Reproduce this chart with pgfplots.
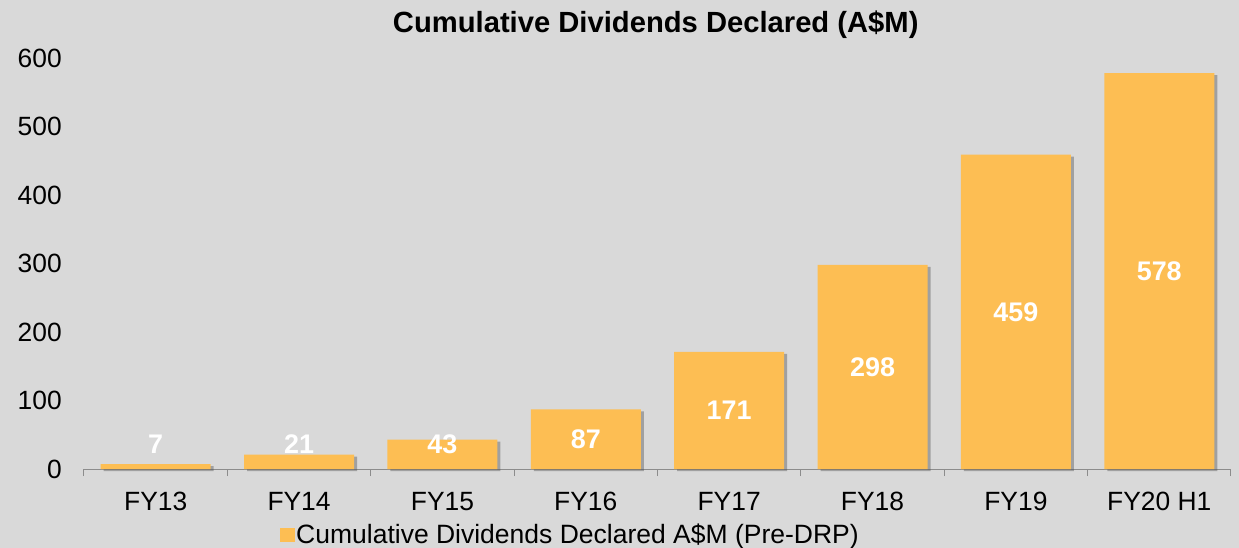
\documentclass[border=0pt]{standalone}
\usepackage{pgfplots}
\pgfplotsset{compat=1.18}
\usepackage{fontspec}
\setmainfont{Liberation Sans}
\usetikzlibrary{shadows}
\definecolor{bg}{HTML}{D9D9D9}
\definecolor{barc}{HTML}{FDBE53}
\definecolor{axgrey}{HTML}{8C8C8C}
\begin{document}
\begin{tikzpicture}
\fill[bg] (-84bp,-79bp) rectangle (1155bp,469bp);
\begin{axis}[
  at={(0,0)}, anchor=south west, scale only axis,
  width=1147bp, height=411bp,
  xmin=-0.5, xmax=7.5, ymin=0, ymax=600,
  axis lines*=left,
  y axis line style={draw=none},
  x axis line style={draw=axgrey, line width=1bp},
  xtick={0,...,7},
  xticklabels={FY13,FY14,FY15,FY16,FY17,FY18,FY19,FY20 H1},
  minor xtick={-0.5,0.5,...,7.5},
  major tick length=0pt,
  minor tick length=7bp,
  xtick align=outside,
  minor tick style={draw=axgrey, line width=1bp},
  ytick={0,100,...,600},
  ytick style={draw=none},
  /pgf/number format/assume math mode=true,
  tick label style={font=\fontsize{26.5}{31}\selectfont, text=black},
  yticklabel style={inner sep=0pt, anchor=east, xshift=-22bp},
  xticklabel style={inner sep=0pt, anchor=north, yshift=-23bp},
  title={Cumulative Dividends Declared (A\$M)},
  title style={at={(0.4985,1)}, anchor=base, yshift=20bp, font=\bfseries\fontsize{29.3}{34}\selectfont, inner sep=0pt},
  legend style={at={(0.424,-0.158)}, anchor=center, draw=none, fill=none,
    font=\fontsize{26.6}{31}\selectfont, inner sep=0pt,
    /tikz/every even column/.append style={column sep=0pt}},
  legend cell align=left,
  clip=false,
]
\addplot[forget plot, ybar, bar width=0.767, fill=barc, draw=none,
  drop shadow={shadow xshift=3bp, shadow yshift=-2bp, opacity=0.4, fill=black!70}]
  coordinates {(0,7) (1,21) (2,43) (3,87) (4,171) (5,298) (6,459) (7,578)};
\addlegendimage{legend image code/.code={\fill[barc] (0bp,-7bp) rectangle (14bp,6bp);}}
\addlegendentry{Cumulative Dividends Declared A\$M (Pre-DRP)}
\addplot[forget plot, draw=none, mark=none, nodes near coords, point meta=explicit symbolic,
  nodes near coords style={anchor=center, inner sep=0pt, text=white, font=\bfseries\fontsize{27}{32}\selectfont}]
  table[meta=lab] {
x y lab
0 36.6 7
1 36.6 21
2 36.6 43
3 43.5 87
4 85.5 171
5 149 298
6 229.5 459
7 289 578
};
\end{axis}
\end{tikzpicture}
\end{document}
